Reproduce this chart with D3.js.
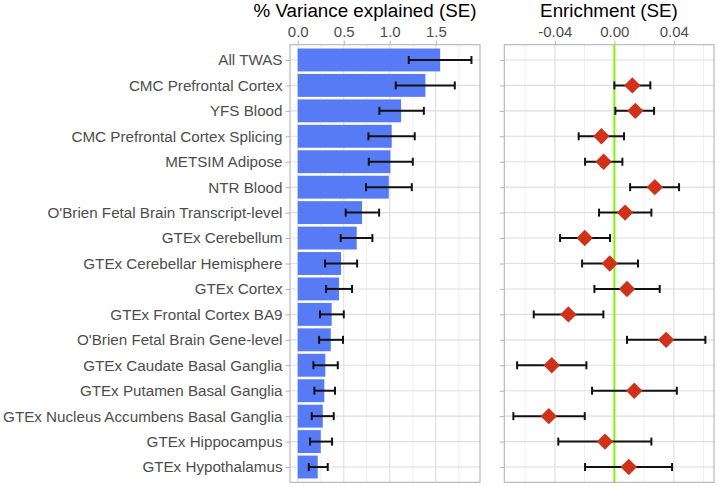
<!DOCTYPE html>
<html><head><meta charset="utf-8">
<script src="https://cdn.jsdelivr.net/npm/d3@7"></script>
<style>body{margin:0;background:#fff}text{font-family:"Liberation Sans",Arial,sans-serif}</style>
</head><body><svg id="c" width="719" height="487"></svg>
<script>
const categories = ["All TWAS","CMC Prefrontal Cortex","YFS Blood","CMC Prefrontal Cortex Splicing","METSIM Adipose","NTR Blood","O'Brien Fetal Brain Transcript-level","GTEx Cerebellum","GTEx Cerebellar Hemisphere","GTEx Cortex","GTEx Frontal Cortex BA9","O'Brien Fetal Brain Gene-level","GTEx Caudate Basal Ganglia","GTEx Putamen Basal Ganglia","GTEx Nucleus Accumbens Basal Ganglia","GTEx Hippocampus","GTEx Hypothalamus"];
const varExplained = [1.547,1.387,1.123,1.021,1.007,0.989,0.699,0.641,0.471,0.449,0.369,0.359,0.300,0.289,0.272,0.250,0.217];
const varLow  = [1.206,1.065,0.887,0.768,0.772,0.742,0.521,0.467,0.297,0.308,0.242,0.232,0.170,0.181,0.152,0.134,0.120];
const varHigh = [1.887,1.706,1.370,1.271,1.250,1.239,0.884,0.811,0.645,0.590,0.500,0.492,0.435,0.405,0.391,0.373,0.326];
const enrichment = [null,0.0121,0.0141,-0.0087,-0.0072,0.0272,0.0072,-0.0199,-0.0031,0.0085,-0.0309,0.0348,-0.0421,0.0134,-0.0441,-0.0063,0.0097];
const enrLow  = [null,0.0000,0.0007,-0.0240,-0.0197,0.0106,-0.0103,-0.0365,-0.0217,-0.0134,-0.0542,0.0085,-0.0654,-0.0150,-0.0679,-0.0377,-0.0197];
const enrHigh = [null,0.0242,0.0267,0.0065,0.0054,0.0435,0.0249,-0.0029,0.0159,0.0305,-0.0074,0.0612,-0.0188,0.0420,-0.0199,0.0249,0.0388];
const varTicks = [0, 0.5, 1.0, 1.5];
const varTickLabels = ["0.0","0.5","1.0","1.5"];
const varMinor = [0.25, 0.75, 1.25, 1.75];
const enrTicks = [-0.04, 0, 0.04];
const enrTickLabels = ["-0.04","0.00","0.04"];
const enrMinor = [-0.06, -0.02, 0.02, 0.06];

const svg = d3.select("#c");
const pTop = 44.7, pBottom = 482.3;
const y = d3.scalePoint().domain(categories).range([pTop, pBottom]).padding(0.6);
const step = y.step();

function panel(x, left, right, ticks, labels, minor) {
  const g = svg.append("g");
  g.append("rect").attr("x", left).attr("y", pTop).attr("width", right-left).attr("height", pBottom-pTop).attr("fill", "#fff");
  g.selectAll(".mn").data(minor).join("line").attr("x1", d=>x(d)).attr("x2", d=>x(d)).attr("y1", pTop).attr("y2", pBottom).attr("stroke", "#ebebeb").attr("stroke-width", 0.8);
  g.selectAll(".mj").data(ticks).join("line").attr("x1", d=>x(d)).attr("x2", d=>x(d)).attr("y1", pTop).attr("y2", pBottom).attr("stroke", "#dedede").attr("stroke-width", 1.1);
  g.selectAll(".hy").data(categories).join("line").attr("x1", left).attr("x2", right).attr("y1", d=>y(d)).attr("y2", d=>y(d)).attr("stroke", "#dedede").attr("stroke-width", 1.1);
  const ax = svg.append("g").attr("transform", `translate(0,${pTop})`)
    .call(d3.axisTop(x).tickValues(ticks).tickFormat((d,i)=>labels[i]).tickSize(4).tickPadding(4));
  ax.select(".domain").remove();
  ax.selectAll("line").attr("stroke", "#b3b3b3");
  ax.selectAll("text").attr("font-size", 15).attr("fill", "#4d4d4d").attr("font-family", "Liberation Sans, Arial, sans-serif");
  const ay = svg.append("g").attr("transform", `translate(${left},0)`)
    .call(d3.axisLeft(y).tickSize(4.5).tickPadding(3));
  ay.select(".domain").remove();
  ay.selectAll("line").attr("stroke", "#b3b3b3");
  return {g, ay};
}

// Left panel
const xL = d3.scaleLinear().domain([-0.084, 1.98]).range([290, 480]);
const pL = panel(xL, 290, 480, varTicks, varTickLabels, varMinor);
pL.ay.selectAll("text").attr("font-size", 15.2).attr("fill", "#4d4d4d").attr("font-family", "Liberation Sans, Arial, sans-serif");
const rowsL = categories.map((c,i)=>({c, v:varExplained[i], lo:varLow[i], hi:varHigh[i]}));
pL.g.selectAll(".bar").data(rowsL).join("rect")
  .attr("x", xL(0)).attr("y", d=>y(d.c)-step*0.45).attr("width", d=>xL(d.v)-xL(0)).attr("height", step*0.9)
  .attr("fill", "#567bf4");
const ebL = pL.g.selectAll(".eb").data(rowsL).join("g").attr("stroke", "#111").attr("stroke-width", 2);
ebL.append("line").attr("x1", d=>xL(d.lo)).attr("x2", d=>xL(d.hi)).attr("y1", d=>y(d.c)).attr("y2", d=>y(d.c));
ebL.append("line").attr("x1", d=>xL(d.lo)).attr("x2", d=>xL(d.lo)).attr("y1", d=>y(d.c)-4).attr("y2", d=>y(d.c)+4);
ebL.append("line").attr("x1", d=>xL(d.hi)).attr("x2", d=>xL(d.hi)).attr("y1", d=>y(d.c)-4).attr("y2", d=>y(d.c)+4);
pL.g.append("rect").attr("x", 290).attr("y", pTop).attr("width", 190).attr("height", pBottom-pTop).attr("fill", "none").attr("stroke", "#b3b3b3").attr("stroke-width", 1.1);

// Right panel
const xR = d3.scaleLinear().domain([-0.074, 0.067]).range([504.3, 714]);
const pR = panel(xR, 504.3, 714, enrTicks, enrTickLabels, enrMinor);
pR.ay.selectAll("text").remove();
pR.g.append("line").attr("x1", xR(0)).attr("x2", xR(0)).attr("y1", pTop).attr("y2", pBottom).attr("stroke", "#7cfc00").attr("stroke-width", 2);
const rowsR = categories.map((c,i)=>({c, v:enrichment[i], lo:enrLow[i], hi:enrHigh[i]})).filter(d=>d.v!==null);
const ebR = pR.g.selectAll(".eb").data(rowsR).join("g").attr("stroke", "#111").attr("stroke-width", 2);
ebR.append("line").attr("x1", d=>xR(d.lo)).attr("x2", d=>xR(d.hi)).attr("y1", d=>y(d.c)).attr("y2", d=>y(d.c));
ebR.append("line").attr("x1", d=>xR(d.lo)).attr("x2", d=>xR(d.lo)).attr("y1", d=>y(d.c)-4).attr("y2", d=>y(d.c)+4);
ebR.append("line").attr("x1", d=>xR(d.hi)).attr("x2", d=>xR(d.hi)).attr("y1", d=>y(d.c)-4).attr("y2", d=>y(d.c)+4);
pR.g.selectAll(".pt").data(rowsR).join("path")
  .attr("d", d=>{const cx=xR(d.v), cy=y(d.c), r=8.2; return `M${cx},${cy-r}L${cx+r},${cy}L${cx},${cy+r}L${cx-r},${cy}Z`;})
  .attr("fill", "#cf3219");
pR.g.append("rect").attr("x", 504.3).attr("y", pTop).attr("width", 714-504.3).attr("height", pBottom-pTop).attr("fill", "none").attr("stroke", "#b3b3b3").attr("stroke-width", 1.1);

// Titles
svg.append("text").attr("x", 365).attr("y", 17).attr("text-anchor", "middle").attr("font-size", 18.8).attr("fill", "#000").text("% Variance explained (SE)");
svg.append("text").attr("x", 609).attr("y", 17).attr("text-anchor", "middle").attr("font-size", 18.8).attr("fill", "#000").text("Enrichment (SE)");
</script></body></html>
